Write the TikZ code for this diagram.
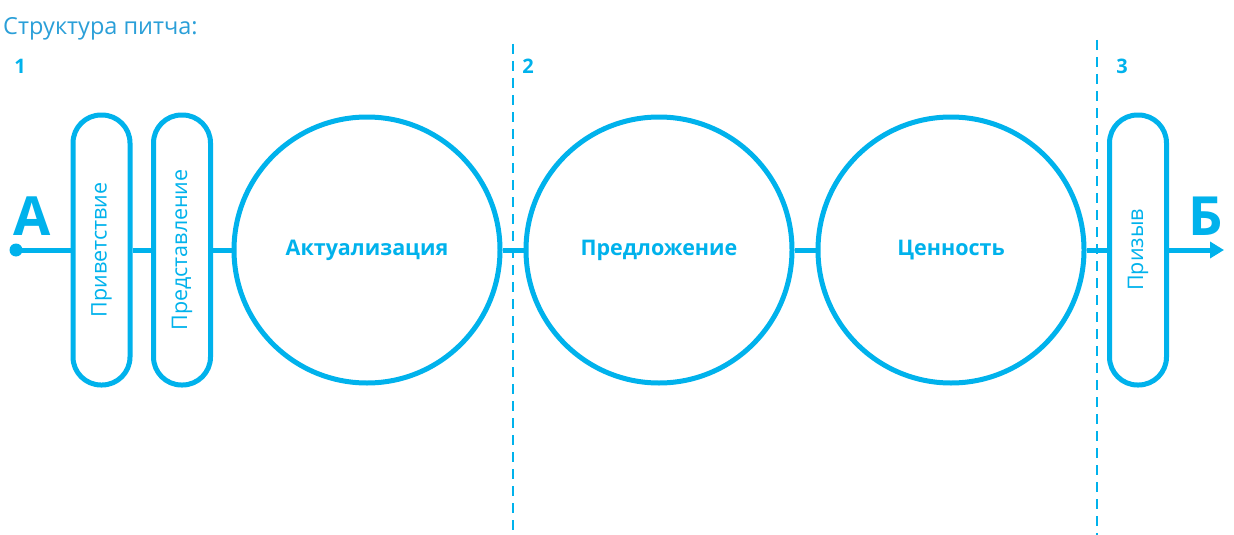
\documentclass[tikz,border=0pt]{standalone}
\usepackage{fontspec}
\setmainfont{Open Sans}
\usetikzlibrary{arrows.meta}
\definecolor{cy}{HTML}{00B2EC}
\definecolor{ttl}{HTML}{2A9FD8}
\begin{document}
\begin{tikzpicture}[x=1pt,y=-1pt,
  ln/.style={cy,line width=5pt},
  pill/.style={draw=cy,line width=5pt,rounded corners=28pt,minimum width=57pt,minimum height=270pt,inner sep=0pt},
  circ/.style={draw=cy,line width=5pt,circle,minimum size=266pt,inner sep=0pt,text=cy,font=\fontsize{21.5}{24}\selectfont\bfseries},
  ptext/.style={text=cy,rotate=90,font=\fontsize{21.5}{24}\selectfont},
  dsh/.style={cy,line width=2.8pt,dash pattern=on 10pt off 7pt},
  num/.style={text=cy,font=\fontsize{20}{24}\selectfont\bfseries,anchor=center},
  big/.style={text=cy,font=\fontsize{54}{58}\selectfont\bfseries,anchor=center}]
\useasboundingbox[fill=white] (0,0) rectangle (1234,535);
\node[anchor=west,text=ttl,font=\fontsize{23.5}{27}\selectfont,inner sep=0pt] (title) at (3,29) {Структура питча:};
\node[num] (n1) at (20,66) {1};
\node[num] (n2) at (528,66) {2};
\node[num] (n3) at (1122,66) {3};
\coordinate (d1t) at (513,44);
\coordinate (d1b) at (513,535);
\coordinate (d2t) at (1097,40);
\coordinate (d2b) at (1097,535);
\draw[dsh] (d1t) -- (d1b);
\draw[dsh] (d2t) -- (d2b);
\coordinate (start) at (16,250);
\coordinate (end) at (1224,250);
\node[pill] (p1) at (101.5,250) {};
\node[pill] (p2) at (182,250) {};
\node[circ] (c1) at (367,250) {Актуализация};
\node[circ] (c2) at (659,250) {Предложение};
\node[circ] (c3) at (951,250) {Ценность};
\node[pill] (p3) at (1138,250) {};
\node[ptext] (t1) at (p1) {Приветствие};
\node[ptext] (t2) at (p2) {Представление};
\node[ptext] (t3) at (p3) {Призыв};
\fill[cy] (start) circle (6.5pt);
\draw[ln] (start) -- (p1.west);
\draw[ln] (p1.east) -- (p2.west);
\draw[ln] (p2.east) -- (c1.west);
\draw[ln] (c1.east) -- (c2.west);
\draw[ln] (c2.east) -- (c3.west);
\draw[ln] (c3.east) -- (p3.west);
\draw[ln,-{Triangle[length=14pt,width=16pt]}] (p3.east) -- (end);
\node[big] (A) at (32,216) {А};
\node[big] (B) at (1206,216) {Б};
\end{tikzpicture}
\end{document}
